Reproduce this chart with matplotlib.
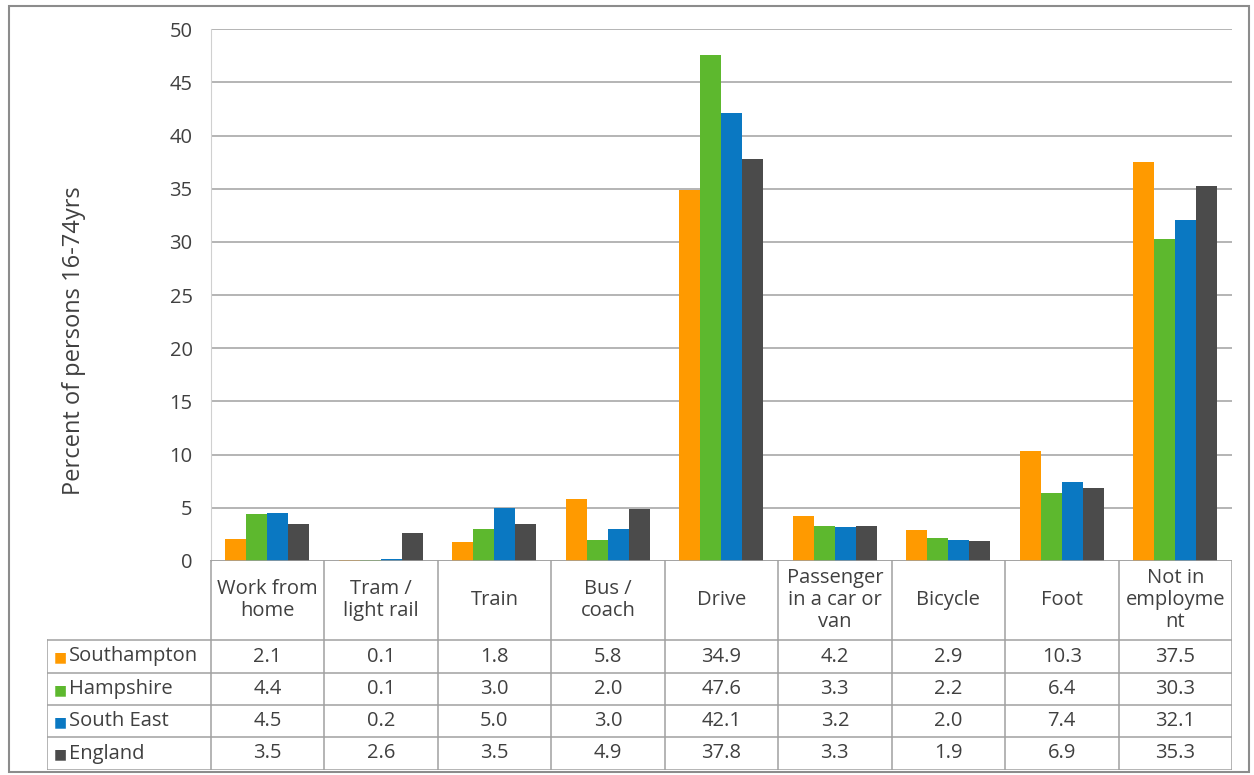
import numpy as np
import matplotlib.pyplot as plt
from matplotlib.patches import Rectangle

plt.rcParams['font.family'] = ['Open Sans', 'DejaVu Sans']

# Data
categories = ['Work from\nhome', 'Tram /\nlight rail', 'Train', 'Bus /\ncoach', 'Drive',
              'Passenger\nin a car or\nvan', 'Bicycle', 'Foot', 'Not in\nemployme\nnt']
areas = ['Southampton', 'Hampshire', 'South East', 'England']
southampton = [2.1, 0.1, 1.8, 5.8, 34.9, 4.2, 2.9, 10.3, 37.5]
hampshire = [4.4, 0.1, 3.0, 2.0, 47.6, 3.3, 2.2, 6.4, 30.3]
south_east = [4.5, 0.2, 5.0, 3.0, 42.1, 3.2, 2.0, 7.4, 32.1]
england = [3.5, 2.6, 3.5, 4.9, 37.8, 3.3, 1.9, 6.9, 35.3]
series = [southampton, hampshire, south_east, england]
colors = ['#FF9A00', '#5DB82E', '#0A78C2', '#4B4B4B']

W, H = 1254, 775
fig = plt.figure(figsize=(W / 100, H / 100), dpi=100)
text_col = '#404040'
line_col = '#A0A0A0'
fs = 14.5

def px_axes(x0, y0, x1, y1):
    # axes placed by pixel box (top-left origin)
    return fig.add_axes([x0 / W, 1 - y1 / H, (x1 - x0) / W, (y1 - y0) / H])

# outer frame
frame = px_axes(0, 0, W, H)
frame.set_xlim(0, W)
frame.set_ylim(H, 0)
frame.axis('off')
frame.add_patch(Rectangle((9, 6), 1240, 766, fill=False, ec='#8C8C8C', lw=1.5))

# bar chart
x_left, x_right = 210.7, 1232
ax = px_axes(x_left, 29.3, x_right, 561)
n = len(categories)
x = np.arange(n)
bw = 0.185
for i, (vals, c) in enumerate(zip(series, colors)):
    ax.bar(x + (i - 1.5) * bw, vals, width=bw, color=c, label=areas[i])
ax.set_xlim(-0.5, n - 0.5)
ax.set_ylim(0, 50)
ax.set_yticks(np.arange(0, 51, 5))
ax.yaxis.grid(True, color=line_col, lw=1.1)
ax.set_axisbelow(True)
ax.set_xticks([])
for s in ['top', 'right', 'bottom']:
    ax.spines[s].set_visible(False)
ax.spines['left'].set_color('#D0D0D0')
ax.tick_params(axis='y', length=0, pad=13, labelsize=fs, labelcolor=text_col)
ax.set_ylabel('Percent of persons 16-74yrs', fontsize=17, color=text_col)
ax.yaxis.set_label_coords(-0.122, 0.415)

# data table under the chart
unit = (x_right - x_left) / n
tx0 = 47
ext = (x_left - tx0) / unit
tab = px_axes(tx0, 560, x_right, 770)
tab.set_xlim(-0.5 - ext, n - 0.5)
tab.set_ylim(210, 0)
tab.axis('off')
rows = [0, 80, 113, 145, 177, 210]
lk = dict(color=line_col, lw=1.1)
for r in rows[1:]:
    tab.plot([-0.5 - ext, n - 0.5], [r, r], **lk)
tab.plot([-0.5, n - 0.5], [0, 0], **lk)
tab.plot([-0.5 - ext] * 2, [rows[1], rows[-1]], **lk)
for k in range(n + 1):
    tab.plot([k - 0.5] * 2, [0, rows[-1]], **lk)
for k, cat in enumerate(categories):
    tab.text(k, 40, cat, ha='center', va='center', fontsize=fs, color=text_col,
             linespacing=1.15)
for j, (name, vals, c) in enumerate(zip(areas, series, colors)):
    yc = (rows[j + 1] + rows[j + 2]) / 2
    tab.text(-0.5 - ext + 0.06, yc + 1, '\u25a0', ha='left', va='center', fontsize=10,
             color=c, family='DejaVu Sans')
    tab.text(-0.5 - ext + 0.19, yc, name, ha='left', va='center', fontsize=fs, color=text_col)
    for k, v in enumerate(vals):
        tab.text(k, yc, f'{v:.1f}', ha='center', va='center', fontsize=fs, color=text_col)

fig.savefig('out.png', dpi=100)
